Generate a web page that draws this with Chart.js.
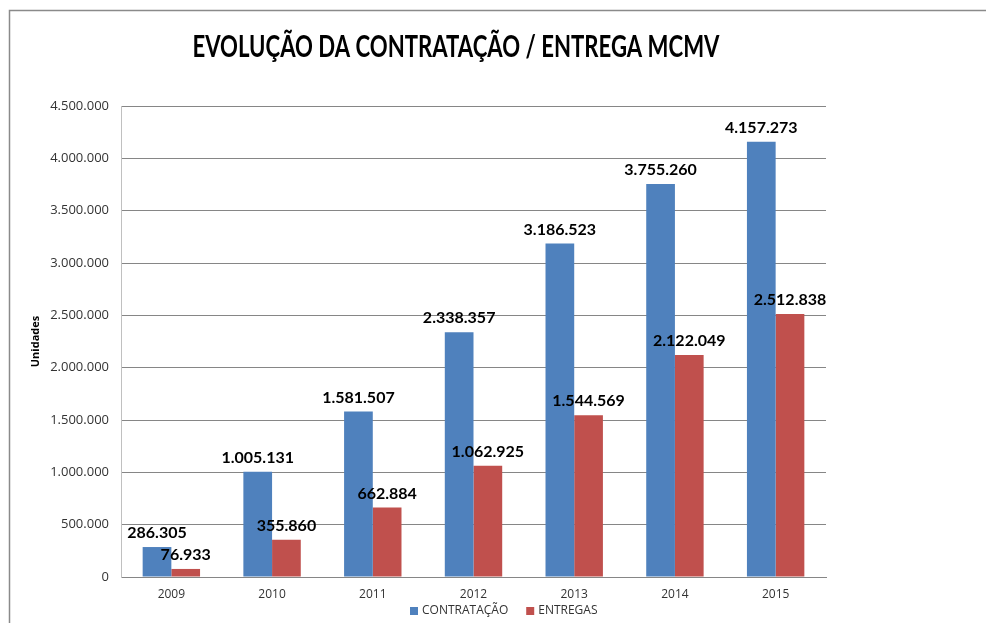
<!DOCTYPE html>
<html>
<head>
<meta charset="utf-8">
<script src="https://cdn.jsdelivr.net/npm/chart.js@4/dist/chart.umd.min.js"></script>
<style>
  body { margin: 0; background: #fff; }
  #wrap { position: absolute; left: 0; top: 0; width: 986px; height: 623px; }
</style>
</head>
<body>
<div id="wrap"><canvas id="mcmvChart"></canvas></div>
<script>
const titulo = "EVOLUÇÃO DA CONTRATAÇÃO / ENTREGA MCMV"
const anos = ["2009", "2010", "2011", "2012", "2013", "2014", "2015"]
const contratacao = [286305, 1005131, 1581507, 2338357, 3186523, 3755260, 4157273]
const entregas = [76933, 355860, 662884, 1062925, 1544569, 2122049, 2512838]
const yTicks = [0, 500000, 1000000, 1500000, 2000000, 2500000, 3000000, 3500000, 4000000, 4500000]

function formatBR(n) {
    return String(n).replace(/\B(?=(\d{3})+(?!\d))/g, ".")
}

// moldura + titulo + legenda + rotulos
const extras = {
    id: "extras",
    beforeDraw(chart) {
        const ctx = chart.ctx
        ctx.save()
        ctx.strokeStyle = "#8a8a8a"
        ctx.lineWidth = 1.5
        ctx.beginPath()
        ctx.moveTo(9.5, 623)
        ctx.lineTo(9.5, 10.5)
        ctx.lineTo(986, 10.5)
        ctx.stroke()
        ctx.restore()
    },
    afterDraw(chart) {
        const ctx = chart.ctx
        ctx.save()
        // titulo
        ctx.fillStyle = "#000"
        ctx.font = "bold 30px Lato"
        ctx.textAlign = "center"
        ctx.textBaseline = "middle"
        ctx.fillText(titulo, 456, 47, 527)

        // rotulos de dados
        ctx.font = "bold 16px Lato"
        ctx.textBaseline = "bottom"
        chart.data.datasets.forEach((ds, i) => {
            chart.getDatasetMeta(i).data.forEach((bar, j) => {
                ctx.fillText(formatBR(ds.data[j]), bar.x, bar.y - 6)
            })
        })

        // legenda
        ctx.font = "12px 'Open Sans'"
        ctx.textAlign = "left"
        ctx.textBaseline = "middle"
        let x = 410
        const y = 611
        chart.data.datasets.forEach(ds => {
            ctx.fillStyle = ds.backgroundColor
            ctx.fillRect(x, y - 4, 8, 8)
            ctx.fillStyle = "#333"
            ctx.fillText(ds.label, x + 12, y)
            x += 12 + ctx.measureText(ds.label).width + 18
        })
        ctx.restore()
    }
}

const data = {
    labels: anos,
    datasets: [
        { label: "CONTRATAÇÃO", data: contratacao, backgroundColor: "#4f81bd" },
        { label: "ENTREGAS", data: entregas, backgroundColor: "#c0504d" }
    ]
}

const config = {
    type: "bar",
    data,
    plugins: [extras],
    options: {
        responsive: false,
        animation: false,
        layout: { padding: { left: 20, right: 160, top: 106, bottom: 20 } },
        datasets: { bar: { categoryPercentage: 0.57, barPercentage: 1 } },
        plugins: {
            legend: { display: false },
            title: { display: false },
            tooltip: { enabled: false }
        },
        scales: {
            x: {
                grid: { display: false, drawTicks: false },
                border: { color: "#868686" },
                ticks: { color: "#333", font: { family: "Open Sans", size: 12 }, padding: 10 },
                afterFit(scale) { scale.height = 26 }
            },
            y: {
                min: 0,
                max: 4500000,
                afterBuildTicks(scale) { scale.ticks = yTicks.map(v => ({ value: v })) },
                grid: { color: "#868686", drawTicks: false },
                border: { color: "#c0c0c0" },
                ticks: {
                    color: "#333",
                    font: { family: "Open Sans", size: 13 },
                    padding: 12,
                    callback: v => formatBR(v)
                },
                title: {
                    display: true,
                    text: "Unidades",
                    color: "#000",
                    font: { family: "Open Sans", size: 11, weight: "bold" },
                    padding: { top: 9, bottom: 2 }
                },
                afterFit(scale) { scale.width = 101 }
            }
        }
    }
}

const canvas = document.getElementById("mcmvChart")
canvas.width = 986
canvas.height = 623
const myChart = new Chart(canvas, config)
</script>
</body>
</html>
